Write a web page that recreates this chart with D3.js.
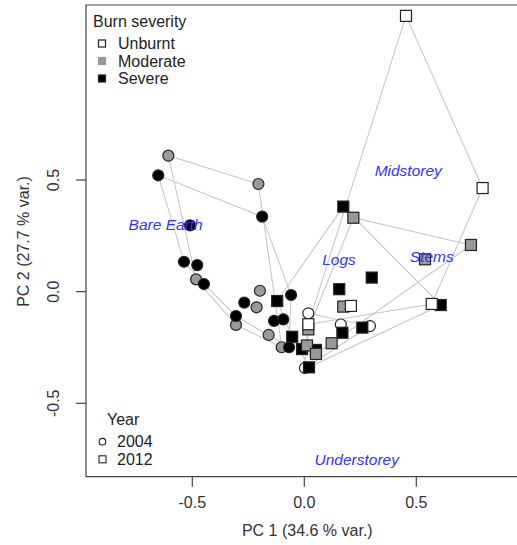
<!DOCTYPE html>
<html>
<head>
<meta charset="utf-8">
<script src="https://cdn.jsdelivr.net/npm/d3@7"></script>
<style>
  body { margin: 0; background: #fff; }
  svg { font-family: "Liberation Sans", Arial, sans-serif; }
</style>
</head>
<body>
<svg id="chart" width="517" height="545"></svg>
<script>
// PCA scores, [PC1, PC2]
var unburnt2004 = [[0.018, -0.097], [0.163, -0.147], [0.293, -0.154], [0.003, -0.342]];
var moderate2004 = [[-0.607, 0.609], [-0.205, 0.482], [-0.483, 0.055], [-0.198, 0.004],
    [-0.213, -0.070], [-0.305, -0.149], [-0.159, -0.194], [-0.101, -0.249]];
var severe2004 = [[-0.652, 0.521], [-0.188, 0.336], [-0.510, 0.297], [-0.537, 0.134],
    [-0.478, 0.119], [-0.448, 0.034], [-0.268, -0.049], [-0.059, -0.015], [-0.305, -0.109],
    [-0.135, -0.131], [-0.094, -0.124], [-0.068, -0.249]];
var unburnt2012 = [[0.454, 1.235], [0.796, 0.464], [0.569, -0.055], [0.208, -0.064], [0.018, -0.146]];
var moderate2012 = [[0.219, 0.331], [0.744, 0.209], [0.539, 0.145], [0.174, -0.067],
    [0.018, -0.169], [0.012, -0.241], [0.052, -0.279], [0.122, -0.231]];
var severe2012 = [[0.174, 0.381], [0.609, -0.060], [0.301, 0.063], [0.156, 0.011],
    [-0.121, -0.042], [-0.054, -0.202], [-0.010, -0.257], [0.052, -0.261], [0.170, -0.184],
    [0.259, -0.161], [0.021, -0.339]];

var severities = ['Unburnt', 'Moderate', 'Severe'];
var years = ['2004', '2012'];
var loadingNames = ['Midstorey', 'Bare Earth', 'Logs', 'Stems', 'Understorey'];
var loadingX = [0.464, -0.619, 0.155, 0.569, 0.234];
var loadingY = [0.540, 0.299, 0.142, 0.157, -0.754];
var xTicks = [-0.5, 0.0, 0.5];
var yTicks = [-0.5, 0.0, 0.5];

var fills = { 'Unburnt': '#ffffff', 'Moderate': '#999999', 'Severe': '#000000' };

// draw order: 2004 circles, then 2012 squares
var groups = [
    { sev: 'Unburnt', year: '2004', pts: unburnt2004 },
    { sev: 'Moderate', year: '2004', pts: moderate2004 },
    { sev: 'Severe', year: '2004', pts: severe2004 },
    { sev: 'Severe', year: '2012', pts: severe2012 },
    { sev: 'Moderate', year: '2012', pts: moderate2012 },
    { sev: 'Unburnt', year: '2012', pts: unburnt2012 }
];

var svg = d3.select('#chart');
var box = { left: 86, top: 5, right: 530, bottom: 476.7 };

var xScale = d3.scaleLinear().domain([-0.5, 0.5]).range([192.3, 416.3]);
var yScale = d3.scaleLinear().domain([-0.5, 0.5]).range([403.3, 180]);

// hulls
var hullG = svg.append('g');
groups.forEach(function (g) {
    var hull = d3.polygonHull(g.pts.map(d => [xScale(d[0]), yScale(d[1])]));
    if (!hull) return;
    hullG.append('path')
        .attr('d', 'M' + hull.join('L') + 'Z')
        .attr('fill', 'none')
        .attr('stroke', '#c8c8c8')
        .attr('stroke-width', 1.1);
});

// points
var ptG = svg.append('g');
groups.forEach(function (g) {
    var sel = ptG.selectAll(null).data(g.pts).enter();
    if (g.year === '2004') {
        sel.append('circle')
            .attr('cx', d => xScale(d[0]))
            .attr('cy', d => yScale(d[1]))
            .attr('r', 5.5)
            .attr('fill', fills[g.sev])
            .attr('stroke', '#222')
            .attr('stroke-width', 1.2);
    } else {
        sel.append('rect')
            .attr('x', d => xScale(d[0]) - 5.5)
            .attr('y', d => yScale(d[1]) - 5.5)
            .attr('width', 11)
            .attr('height', 11)
            .attr('fill', fills[g.sev])
            .attr('stroke', '#222')
            .attr('stroke-width', 1.2);
    }
});

// variable labels
svg.append('g').selectAll('text')
    .data(loadingNames)
    .enter()
    .append('text')
    .attr('x', (d, i) => xScale(loadingX[i]))
    .attr('y', (d, i) => yScale(loadingY[i]))
    .attr('dy', '0.35em')
    .attr('text-anchor', 'middle')
    .attr('font-style', 'italic')
    .attr('font-size', 15.5)
    .attr('fill', '#3333ff')
    .text(d => d);

// box
svg.append('path')
    .attr('d', `M${box.right},${box.top}H${box.left}V${box.bottom}H${box.right}`)
    .attr('fill', 'none')
    .attr('stroke', '#444')
    .attr('stroke-width', 1.2);

// axes
var xAxis = svg.append('g').attr('transform', `translate(0,${box.bottom})`);
xAxis.selectAll('line').data(xTicks).enter().append('line')
    .attr('x1', d => xScale(d)).attr('x2', d => xScale(d))
    .attr('y1', 0).attr('y2', 10)
    .attr('stroke', '#444').attr('stroke-width', 1.2);
xAxis.selectAll('text').data(xTicks).enter().append('text')
    .attr('x', d => xScale(d))
    .attr('y', 26)
    .attr('dy', '0.35em')
    .attr('text-anchor', 'middle')
    .attr('font-size', 16)
    .attr('fill', '#333')
    .text(d => d3.format('.1f')(d).replace('\u2212', '-'));

var yAxis = svg.append('g').attr('transform', `translate(${box.left},0)`);
yAxis.selectAll('line').data(yTicks).enter().append('line')
    .attr('x1', 0).attr('x2', -10)
    .attr('y1', d => yScale(d)).attr('y2', d => yScale(d))
    .attr('stroke', '#444').attr('stroke-width', 1.2);
yAxis.selectAll('text').data(yTicks).enter().append('text')
    .attr('transform', d => `translate(-33,${yScale(d)}) rotate(-90)`)
    .attr('dy', '0.35em')
    .attr('text-anchor', 'middle')
    .attr('font-size', 16)
    .attr('fill', '#333')
    .text(d => d3.format('.1f')(d).replace('\u2212', '-'));

svg.append('text')
    .attr('x', xScale(0) + 3)
    .attr('y', 530)
    .attr('dy', '0.35em')
    .attr('text-anchor', 'middle')
    .attr('font-size', 16)
    .attr('fill', '#333')
    .text('PC 1 (34.6 % var.)');
svg.append('text')
    .attr('transform', 'translate(23.5,241.5) rotate(-90)')
    .attr('dy', '0.35em')
    .attr('text-anchor', 'middle')
    .attr('font-size', 16)
    .attr('fill', '#333')
    .text('PC 2 (27.7 % var.)');

// legend: burn severity
var leg1 = svg.append('g');
leg1.append('text')
    .attr('x', 93).attr('y', 21.5).attr('dy', '0.35em')
    .attr('font-size', 16).attr('fill', '#222')
    .text('Burn severity');
severities.forEach(function (s, i) {
    var cy = 43.5 + i * 17.5;
    leg1.append('rect')
        .attr('x', 98.5).attr('y', cy - 3.5)
        .attr('width', 7).attr('height', 7)
        .attr('fill', fills[s])
        .attr('stroke', s === 'Moderate' ? '#999' : '#222')
        .attr('stroke-width', 1.2);
    leg1.append('text')
        .attr('x', 118).attr('y', cy).attr('dy', '0.35em')
        .attr('font-size', 16).attr('fill', '#222')
        .text(s);
});

// legend: year
var leg2 = svg.append('g');
leg2.append('text')
    .attr('x', 107).attr('y', 419.5).attr('dy', '0.35em')
    .attr('font-size', 16).attr('fill', '#222')
    .text('Year');
years.forEach(function (y, i) {
    var cy = 441.7 + i * 17.6;
    if (i === 0) {
        leg2.append('circle')
            .attr('cx', 102.5).attr('cy', cy).attr('r', 3.3)
            .attr('fill', 'none').attr('stroke', '#222').attr('stroke-width', 1.1);
    } else {
        leg2.append('rect')
            .attr('x', 99).attr('y', cy - 3.5).attr('width', 7).attr('height', 7)
            .attr('fill', 'none').attr('stroke', '#222').attr('stroke-width', 1.1);
    }
    leg2.append('text')
        .attr('x', 117).attr('y', cy).attr('dy', '0.35em')
        .attr('font-size', 16).attr('fill', '#222')
        .text(y);
});
</script>
</body>
</html>
